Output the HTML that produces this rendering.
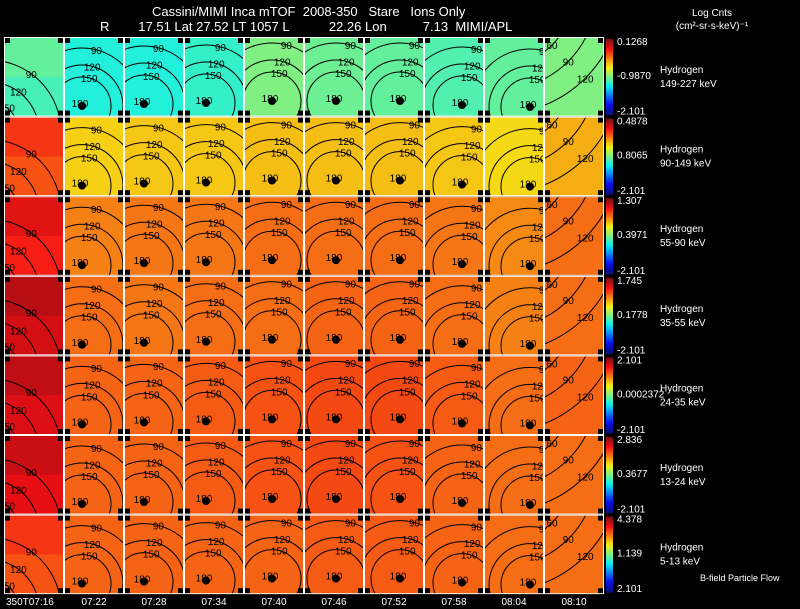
<!DOCTYPE html>
<html><head><meta charset="utf-8"><style>
html,body{margin:0;padding:0;background:#000;width:800px;height:609px;overflow:hidden}
svg{display:block}
svg text{font-family:"Liberation Sans",sans-serif;white-space:pre}
</style></head><body>
<svg id="c" width="800" height="609" xmlns="http://www.w3.org/2000/svg" xml:space="preserve">
<text x="152" y="16" fill="#fff" font-size="13">Cassini/MIMI Inca mTOF  2008-350   Stare   Ions Only</text>
<text x="100" y="31" fill="#fff" font-size="13">R        17.51 Lat 27.52 LT 1057 L           22.26 Lon          7.13  MIMI/APL</text>
<text x="712" y="16" fill="#fff" font-size="10" text-anchor="middle">Log Cnts</text>
<text x="712" y="29" fill="#fff" font-size="10" text-anchor="middle">(cm²-sr-s-keV)⁻¹</text>
<text x="700" y="581" fill="#fff" font-size="9">B-field Particle Flow</text>
<g id="g"></g>
</svg>
<script>
const times=["350T07:16","07:22","07:28","07:34","07:40","07:46","07:52","07:58","08:04","08:10"];
const energies=["149-227 keV","90-149 keV","55-90 keV","35-55 keV","24-35 keV","13-24 keV","5-13 keV"];
const cbMax=["0.1268","0.4878","1.307","1.745","2.101","2.836","4.378"];
const cbMid=["-0.9870","0.8065","0.3971","0.1778","0.0002372","0.3677","1.139"];
const cbMin=["-2.101","-2.101","-2.101","-2.101","-2.101","-2.101","2.101"];
// mean normalized intensity (0..1 on jet scale) per panel, row = energy, col = time
const row0=[0.44,0.40,0.40,0.42,0.50,0.48,0.47,0.45,0.47,0.50];
const row1=[0.80,0.66,0.67,0.67,0.68,0.68,0.68,0.67,0.65,0.70];
const row2=[0.86,0.75,0.76,0.76,0.77,0.77,0.77,0.76,0.74,0.77];
const row3=[0.91,0.77,0.76,0.77,0.77,0.78,0.78,0.77,0.75,0.77];
const row4=[0.90,0.78,0.78,0.79,0.80,0.81,0.81,0.79,0.77,0.78];
const row5=[0.89,0.78,0.78,0.79,0.80,0.81,0.80,0.78,0.77,0.77];
const row6=[0.80,0.78,0.78,0.78,0.78,0.79,0.79,0.78,0.77,0.77];
const rows=[row0,row1,row2,row3,row4,row5,row6];
const ns="http://www.w3.org/2000/svg";
const g=document.getElementById('g');
const X0=4,PW=60,Y0=37,PH=79.6;
function jet(v){v=Math.max(0,Math.min(1,v));
 const r=Math.max(0,Math.min(1,1.5-Math.abs(4*v-3))),gg=Math.max(0,Math.min(1,1.5-Math.abs(4*v-2))),b=Math.max(0,Math.min(1,1.5-Math.abs(4*v-1)));
 return `rgb(${Math.round(r*235+10)},${Math.round(gg*225+15)},${Math.round(b*220+20)})`;}
function mk(t,a,p){const e=document.createElementNS(ns,t);for(const k in a)e.setAttribute(k,a[k]);(p||g).appendChild(e);return e;}
const cx=[-15,18,20,22,28,32,36,38,46,-45], cy=[95,69,67,66,64,64,64,68,70,-45];
const rad=[[30,50,72],[29,41,58],[29,41,58],[29,41,58],[29,41,58],[29,41,58],[29,41,58],[29,41,58],[29,41,58],[75,98,122]];
const lbls=[["150","120","90"],["150","120","90"],["150","120","90"],["150","120","90"],["150","120","90"],["150","120","90"],["150","120","90"],["150","120","90"],["150","120","90"],["60","90","120"]];
const defs=mk('defs',{});
rows.forEach((row,ri)=>{
 row.forEach((v,ci)=>{
  const x=X0+ci*PW,y=Y0+ri*PH;
  const cp=mk('clipPath',{id:`cp${ri}_${ci}`},defs);
  mk('rect',{x:x,y:y,width:PW,height:PH},cp);
  const p=mk('g',{'clip-path':`url(#cp${ri}_${ci})`});
  
  
  mk('rect',{x:x,y:y,width:PW,height:PH,fill:jet(v)},p);
  if(ci===0){mk('rect',{x:x,y:y,width:PW,height:PH*0.5,fill:jet(Math.min(1,v+0.05)),opacity:0.6},p);}
  rad[ci].forEach((rr,k)=>{
   mk('circle',{cx:x+cx[ci],cy:y+cy[ci],r:rr,fill:'none',stroke:'#000','stroke-width':1},p);
   let ang=ci===9?Math.PI*0.25:(ci===0?-Math.PI*0.3:-Math.PI*0.42);
   const t=mk('text',{x:x+cx[ci]+rr*Math.cos(ang),y:y+cy[ci]+rr*Math.sin(ang)+4,'font-size':10,fill:'#000','text-anchor':'middle'},p);t.textContent=lbls[ci][k];
  });
  if(ci<9&&ci>0){mk('circle',{cx:x+cx[ci],cy:y+cy[ci],r:4,fill:'#000'},p);
   const t=mk('text',{x:x+cx[ci]-2,y:y+cy[ci]+1,'font-size':10,fill:'#000','text-anchor':'middle'},p);t.textContent='180';}
  [[0,0],[PW-6,0],[0,PH-6],[PW-6,PH-6]].forEach(o=>mk('rect',{x:x+o[0],y:y+o[1],width:6,height:6,fill:'#000'},p));
  mk('rect',{x:x+0.5,y:y+0.5,width:PW-1,height:PH-1,fill:'none',stroke:'#fff','stroke-width':1},p);
 });
 const y=Y0+ri*PH;
 for(let k=0;k<40;k++){mk('rect',{x:606,y:y+2+k*(PH-4)/40,width:7,height:(PH-4)/40+0.5,fill:jet(1-k/39)});}
 const a=mk('text',{x:617,y:y+8,fill:'#fff','font-size':10});a.textContent=cbMax[ri];
 const b=mk('text',{x:617,y:y+42,fill:'#fff','font-size':10});b.textContent=cbMid[ri];
 const c=mk('text',{x:617,y:y+PH-2,fill:'#fff','font-size':10});c.textContent=cbMin[ri];
 const h=mk('text',{x:660,y:y+36,fill:'#fff','font-size':10});h.textContent='Hydrogen';
 
 
 const e=mk('text',{x:660,y:y+50,fill:'#fff','font-size':10});e.textContent=energies[ri];
 
 
});
times.forEach((t,i)=>{const e=mk('text',{x:X0+i*PW+(i===0?2:30),y:605,fill:'#fff','font-size':10,'text-anchor':i===0?'start':'middle'});e.textContent=t;
 
 });
</script>
</body></html>
